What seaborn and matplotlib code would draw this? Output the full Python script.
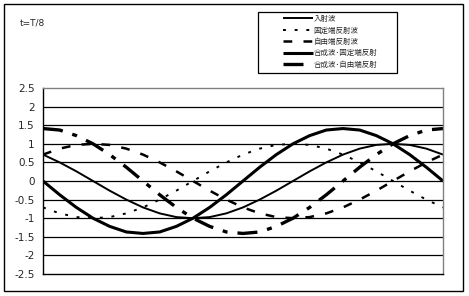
import matplotlib
matplotlib.use("Agg")
import matplotlib.pyplot as plt
import seaborn as sns
import pandas as pd
from matplotlib.patches import Rectangle

# phase positions along one wavelength (degrees)
position = [0, 15, 30, 45, 60, 75, 90, 105, 120, 135, 150, 165, 180,
            195, 210, 225, 240, 255, 270, 285, 300, 315, 330, 345, 360]

incident = [0.71, 0.50, 0.26, 0.00, -0.26, -0.50, -0.71, -0.87, -0.97, -1.00,
            -0.97, -0.87, -0.71, -0.50, -0.26, 0.00, 0.26, 0.50, 0.71, 0.87,
            0.97, 1.00, 0.97, 0.87, 0.71]
fixed_reflected = [-0.71, -0.87, -0.97, -1.00, -0.97, -0.87, -0.71, -0.50, -0.26, 0.00,
                   0.26, 0.50, 0.71, 0.87, 0.97, 1.00, 0.97, 0.87, 0.71, 0.50,
                   0.26, 0.00, -0.26, -0.50, -0.71]
free_reflected = [0.71, 0.87, 0.97, 1.00, 0.97, 0.87, 0.71, 0.50, 0.26, 0.00,
                  -0.26, -0.50, -0.71, -0.87, -0.97, -1.00, -0.97, -0.87, -0.71, -0.50,
                  -0.26, 0.00, 0.26, 0.50, 0.71]
composite_fixed = [0.00, -0.37, -0.71, -1.00, -1.22, -1.37, -1.41, -1.37, -1.22, -1.00,
                   -0.71, -0.37, 0.00, 0.37, 0.71, 1.00, 1.22, 1.37, 1.41, 1.37,
                   1.22, 1.00, 0.71, 0.37, 0.00]
composite_free = [1.41, 1.37, 1.22, 1.00, 0.71, 0.37, 0.00, -0.37, -0.71, -1.00,
                  -1.22, -1.37, -1.41, -1.37, -1.22, -1.00, -0.71, -0.37, 0.00, 0.37,
                  0.71, 1.00, 1.22, 1.37, 1.41]

labels = ["入射波", "固定端反射波", "自由端反射波", "合成波･固定端反射", "合成波･自由端反射"]
y_ticks = [2.5, 2, 1.5, 1, 0.5, 0, -0.5, -1, -1.5, -2, -2.5]
y_tick_labels = ["2.5", "2", "1.5", "1", "0.5", "0", "-0.5", "-1", "-1.5", "-2", "-2.5"]
title_text = "t=T/8"

sns.set_style("white")
plt.rcParams["font.family"] = ["DejaVu Sans", "Noto Sans CJK JP"]

fig = plt.figure(figsize=(4.69, 2.96), dpi=100)
ax = fig.add_axes([43 / 469, 1 - 274 / 296, 400 / 469, 186 / 296])

series = [incident, fixed_reflected, free_reflected, composite_fixed, composite_free]
styles = [
    dict(lw=1.4, dashes=(None, None)),
    dict(lw=1.4, dashes=(1.5, 4.5)),
    dict(lw=1.8, dashes=(3.5, 4.5)),
    dict(lw=2.2, dashes=(None, None)),
    dict(lw=2.4, dashes=(6, 3, 1.5, 3)),
]
for vals, lab, st in zip(series, labels, styles):
    df = pd.DataFrame({"x": position, "y": vals})
    sns.lineplot(data=df, x="x", y="y", ax=ax, color="black", label=lab,
                 linewidth=st["lw"])
    line = ax.get_lines()[-1]
    if st["dashes"][0] is not None:
        line.set_dashes(st["dashes"])
    line.set_solid_capstyle("butt")

ax.set_xlim(0, 360)
ax.set_ylim(-2.5, 2.5)
ax.set_yticks(y_ticks)
ax.set_yticklabels(y_tick_labels, fontsize=7.5)
ax.set_xticks([])
ax.set_xlabel("")
ax.set_ylabel("")
ax.tick_params(axis="y", length=0, pad=6)
for y in y_ticks[1:-1]:
    ax.axhline(y, color="black", lw=0.9, zorder=0)
ax.spines["left"].set_color("black")
ax.spines["bottom"].set_color("black")
ax.spines["top"].set_color("#808080")
ax.spines["right"].set_color("#808080")
for s in ax.spines.values():
    s.set_linewidth(1.0)

handles, labs = ax.get_legend_handles_labels()
ax.legend_.remove()
leg = fig.legend(handles, labs, loc="upper left",
                 bbox_to_anchor=(283 / 469, 1 - 15 / 296),
                 prop={"family": ["Noto Sans CJK JP"], "size": 5.4},
                 frameon=False,
                 handlelength=4.0, handletextpad=0.05, labelspacing=0.45,
                 borderpad=0, borderaxespad=0)

fig.patches.append(Rectangle((258 / 469, 1 - 73 / 296), 139 / 469, 61 / 296,
                             transform=fig.transFigure, fill=False,
                             edgecolor="black", lw=0.9))

fig.text(20 / 469, 1 - 23 / 296, title_text, fontsize=6.5, va="center", ha="left")

fig.patches.append(Rectangle((4 / 469, 1 - 291 / 296), 459 / 469, 287 / 296,
                             transform=fig.transFigure, fill=False,
                             edgecolor="black", lw=1.0))

fig.savefig("out.png", dpi=100)
